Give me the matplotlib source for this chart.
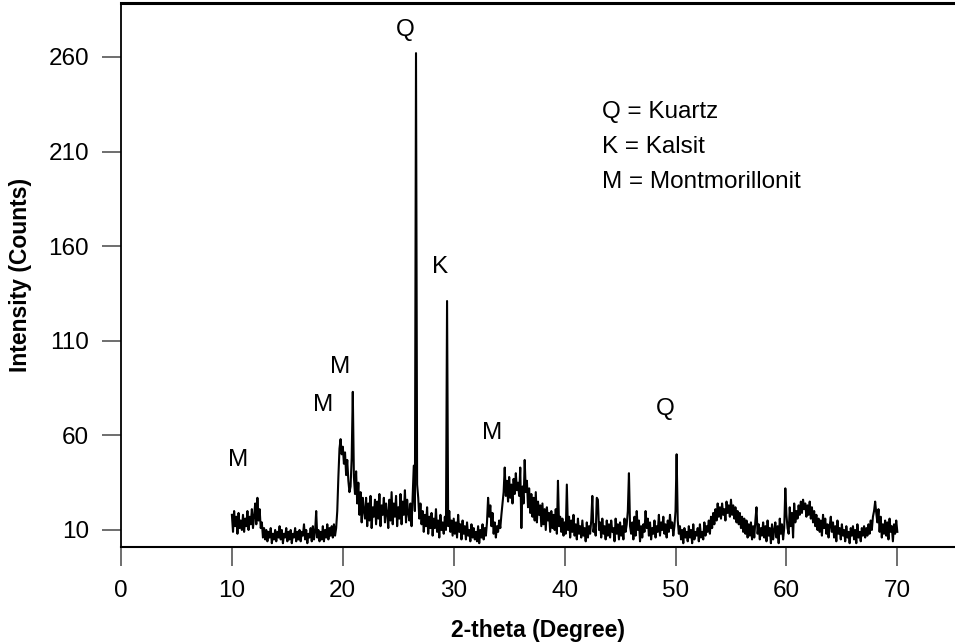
import numpy as np
import matplotlib
matplotlib.use('Agg')
import matplotlib.pyplot as plt

# XRD scan, 10-70 deg 2-theta, 0.1 deg step, one row per degree
counts_10_20 = [
    18, 9, 20, 12, 17, 8, 19, 11, 15, 10,
    18, 9, 16, 12, 20, 10, 17, 13, 21, 11,
    17, 24, 13, 27, 15, 21, 11, 14, 6, 11,
    5, 10, 4, 9, 6, 11, 3, 8, 5, 10,
    4, 9, 6, 12, 5, 10, 3, 8, 6, 11,
    4, 9, 5, 10, 3, 8, 6, 11, 4, 9,
    5, 10, 4, 9, 7, 13, 5, 10, 3, 8,
    6, 11, 4, 12, 5, 9, 20, 6, 10, 4,
    9, 5, 12, 4, 10, 6, 13, 5, 11, 7,
    12, 6, 13, 7, 11, 20, 38, 53, 58, 50,
]
counts_20_30 = [
    54, 45, 51, 39, 47, 36, 30, 33, 48, 83,
    38, 29, 41, 24, 35, 18, 30, 14, 27, 20,
    16, 27, 12, 24, 15, 28, 11, 22, 17, 26,
    13, 25, 16, 29, 12, 23, 18, 27, 14, 24,
    19, 11, 26, 15, 30, 13, 24, 17, 28, 12,
    22, 16, 29, 13, 25, 18, 31, 14, 26, 19,
    15, 24, 12, 28, 44, 20, 262, 34, 27, 16,
    24, 13, 20, 9, 18, 12, 22, 8, 17, 11,
    19, 7, 16, 11, 21, 9, 15, 6, 18, 10,
    14, 8, 17, 10, 131, 12, 20, 9, 15, 7,
]
counts_30_40 = [
    16, 8, 14, 6, 18, 9, 13, 5, 15, 8,
    12, 5, 14, 7, 10, 4, 13, 6, 11, 5,
    9, 4, 12, 3, 10, 6, 13, 5, 11, 7,
    14, 27, 17, 23, 12, 19, 8, 14, 6, 12,
    9, 15, 11, 18, 24, 30, 43, 28, 36, 25,
    38, 27, 34, 24, 37, 29, 40, 31, 35, 28,
    43, 11, 33, 24, 47, 30, 36, 22, 32, 19,
    29, 17, 27, 15, 30, 14, 25, 18, 23, 12,
    24, 13, 21, 10, 22, 15, 19, 9, 20, 11,
    18, 10, 21, 8, 36, 12, 17, 9, 16, 7,
]
counts_40_50 = [
    14, 8, 34, 10, 17, 6, 15, 9, 18, 7,
    13, 5, 16, 8, 12, 6, 15, 7, 11, 4,
    14, 6, 12, 8, 15, 28, 9, 13, 7, 27,
    26, 10, 14, 6, 16, 8, 12, 5, 15, 7,
    13, 6, 15, 9, 11, 4, 16, 8, 13, 5,
    14, 7, 12, 5, 16, 9, 13, 20, 40, 12,
    8, 14, 5, 17, 7, 20, 10, 15, 4, 12,
    6, 13, 9, 20, 11, 16, 7, 14, 5, 11,
    8, 15, 6, 12, 9, 18, 7, 14, 10, 17,
    8, 13, 6, 15, 9, 18, 11, 14, 7, 12,
]
counts_50_60 = [
    20, 50, 15, 8, 12, 5, 10, 3, 11, 6,
    9, 4, 12, 6, 10, 3, 13, 5, 9, 7,
    11, 4, 13, 6, 9, 5, 14, 7, 12, 9,
    15, 8, 17, 11, 19, 13, 21, 15, 24, 17,
    22, 16, 24, 18, 21, 15, 25, 19, 23, 17,
    26, 18, 23, 16, 22, 14, 20, 13, 19, 11,
    17, 9, 16, 8, 15, 6, 13, 7, 14, 5,
    12, 6, 15, 22, 8, 13, 5, 11, 7, 14,
    6, 12, 4, 15, 7, 11, 3, 13, 5, 10,
    14, 6, 12, 3, 16, 8, 13, 5, 11, 32,
]
counts_60_70 = [
    18, 11, 8, 22, 12, 19, 6, 24, 14, 20,
    16, 23, 18, 25, 19, 26, 21, 24, 17, 23,
    18, 25, 16, 22, 14, 20, 12, 18, 10, 16,
    9, 15, 7, 18, 11, 16, 8, 13, 6, 12,
    17, 9, 14, 6, 12, 4, 15, 8, 11, 5,
    13, 7, 10, 4, 12, 6, 9, 3, 11, 7,
    12, 5, 10, 3, 13, 6, 9, 4, 11, 7,
    12, 6, 11, 7, 13, 8, 15, 10, 17, 20,
    25, 19, 14, 21, 9, 17, 6, 13, 8, 15,
    7, 14, 5, 16, 9, 12, 4, 13, 8, 15,
    9,
]
two_theta_start = 10.0
two_theta_step = 0.1

x_ticks = [0, 10, 20, 30, 40, 50, 60, 70]
y_ticks = [10, 60, 110, 160, 210, 260]

peak_names = ['M', 'M', 'M', 'Q', 'K', 'M', 'Q']
peak_name_x = [10.6, 18.2, 19.8, 25.6, 28.8, 33.5, 49.1]
peak_name_y = [47, 76, 96, 274, 149, 61, 74]

phase_key = ['Q = Kuartz', 'K = Kalsit', 'M = Montmorillonit']


def plot_xrd():
    counts = np.array(counts_10_20 + counts_20_30 + counts_30_40 +
                      counts_40_50 + counts_50_60 + counts_60_70, dtype=float)
    two_theta = two_theta_start + two_theta_step * np.arange(len(counts))

    plt.rcParams['font.family'] = ['Liberation Sans', 'DejaVu Sans']

    fig = plt.figure(figsize=(9.55, 6.44), dpi=100, facecolor='w')
    ax = fig.add_axes([121 / 955, 97 / 644, 834 / 955, 544 / 644])

    ax.plot(two_theta, counts, color='k', linewidth=1.5)

    ax.set_xlim(0, 75.2)
    ax.set_ylim(1, 288.5)
    ax.set_xticks(x_ticks)
    ax.set_yticks(y_ticks)
    ax.tick_params(axis='both', direction='out', length=14, width=1.2,
                   color='#555555', labelsize=17.5, pad=9)
    ax.tick_params(axis='x', pad=10)

    ax.spines['right'].set_visible(False)
    ax.spines['top'].set_linewidth(2.2)
    ax.spines['left'].set_linewidth(1.3)
    ax.spines['bottom'].set_linewidth(1.5)

    ax.set_xlabel('2-theta (Degree)', fontsize=16.5, fontweight='bold', labelpad=12)
    ax.set_ylabel('Intensity (Counts)', fontsize=16.5, fontweight='bold', labelpad=12)

    for name, px, py in zip(peak_names, peak_name_x, peak_name_y):
        ax.text(px, py, name, fontsize=17.5, ha='center', va='center')

    for i, line in enumerate(phase_key):
        ax.text(43.4, 231 - 18.5 * i, line, fontsize=17.5, ha='left', va='center')

    plt.savefig('out.png', dpi=100)
    plt.close()


if __name__ == '__main__':
    plot_xrd()
